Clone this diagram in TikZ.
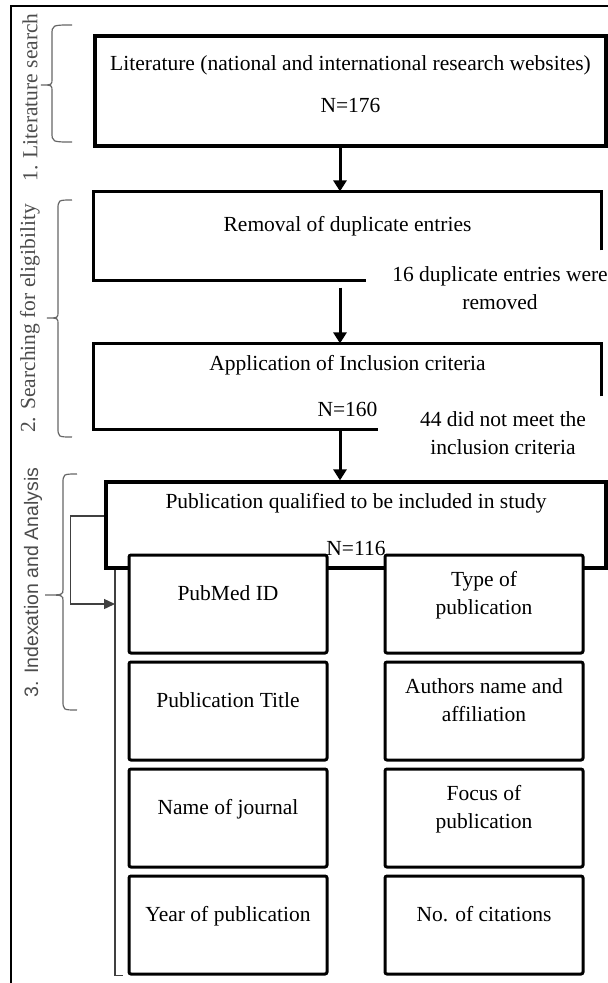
\documentclass[tikz,border=0pt]{standalone}
\usepackage{fontspec}
\setmainfont{Liberation Serif}
\setsansfont{Liberation Sans}
\usetikzlibrary{calc}
\usetikzlibrary{positioning}
\usetikzlibrary{arrows.meta}

\begin{document}
\begin{tikzpicture}[x=1pt, y=1pt, node distance=6pt,
	font=\fontsize{21.5}{28}\selectfont,
	stage/.style={line width=3.2pt, minimum width=#1, align=center},
	field/.style={draw, line width=3pt, rounded corners=2pt, fill=white,
	  minimum width=198pt, minimum height=98pt, align=center, text depth=22pt},
	flow/.style={line width=3pt, -{Triangle[length=11pt,width=13pt]}},
	phase/.style={rotate=90, text=black!70},
	curly/.style={draw=black!60, line width=1.2pt},
	note/.style={align=center}]
\useasboundingbox (0,0) rectangle (608,-983);
\draw[line width=2.5pt] (608,-6) -| (11,-983);

\node[draw, stage=511pt, minimum height=110pt, text depth=14pt] (lit) at (350.5,-91)
  {Literature (national and international research websites)\\[14pt]N=176};
\node[stage=505pt, minimum height=86pt, text depth=25pt] (rem) at (347.5,-236) {Removal of duplicate entries};
\node[stage=505pt, minimum height=83pt] (inc) at (347.5,-386.5) {Application of Inclusion criteria\\[18pt]N=160};
\node[draw, stage=500pt, minimum height=86pt] (pub) at (356,-525)
  {Publication qualified to be included in study\\[19pt]N=116};

\node[note] (dupnote) at (500,-288.5) {16 duplicate entries were\\removed};
\node[note] (critnote) at (503,-433.5) {44 did not meet the\\inclusion criteria};

% open boxes
\draw[line width=3.2pt] ($(rem.north east)+(0,-59)$) -- (rem.north east) -- (rem.north west) -- (rem.south west) -- ++(273,0);
\draw[line width=3.2pt] ($(inc.north east)+(0,-53)$) -- (inc.north east) -- (inc.north west) -- (inc.south west) -- ++(285,0);

\coordinate (spine) at (340,0);
\draw[flow] (lit.south -| spine) -- (rem.north -| spine);
\draw[flow] ($(rem.south -| spine)+(0,-7)$) -- (inc.north -| spine);
\draw[flow] (inc.south -| spine) -- (pub.north -| spine);

% indexed fields
\node[field] (pmid) at (228,-604) {PubMed ID};
\node[field, below=of pmid] (ptitle) {Publication Title};
\node[field, below=of ptitle] (journal) {Name of journal};
\node[field, below=of journal] (pyear) {Year of publication};
\node[field, right=55pt of pmid] (ptype) {Type of\\publication};
\node[field, right=55pt of ptitle] (authors) {Authors name and\\affiliation};
\node[field, right=55pt of journal] (focus) {Focus of\\publication};
\node[field, right=55pt of pyear] (cites) {No. of citations};

\coordinate (rail) at (115,0);
\draw[draw=black!75, line width=1.2pt] (pub.south -| rail) -- (pyear.south -| rail) -- ++(8,0);
\draw[draw=black!75, line width=1.4pt, -{Triangle[length=11pt,width=10pt]}]
  ([yshift=9pt]pub.west) -- ++(-34,0) |- (pmid -| rail);

% phases
\draw[curly] (72,-25) .. controls (52,-25) .. (52,-35) -- (52,-79) .. controls (52,-85) .. (41,-85)
  .. controls (52,-85) .. (52,-91) -- (52,-132) .. controls (52,-142) .. (72,-142);
\draw[curly] (72,-200) .. controls (58,-200) .. (58,-210) -- (58,-312) .. controls (58,-318) .. (47,-318)
  .. controls (58,-318) .. (58,-324) -- (58,-427) .. controls (58,-437) .. (72,-437);
\draw[curly] (77,-474) .. controls (63,-474) .. (63,-484) -- (63,-589) .. controls (63,-595) .. (45,-595)
  .. controls (63,-595) .. (63,-601) -- (63,-700) .. controls (63,-710) .. (77,-710);
\node[phase] (phase1) at (30,-97.5) {1. Literature search};
\node[phase] (phase2) at (30,-318.5) {2. Searching for eligibility};
\node[phase, font=\sffamily\fontsize{19.5}{24}\selectfont] (phase3) at (33,-582.5) {3. Indexation and Analysis};
\end{tikzpicture}
\end{document}
